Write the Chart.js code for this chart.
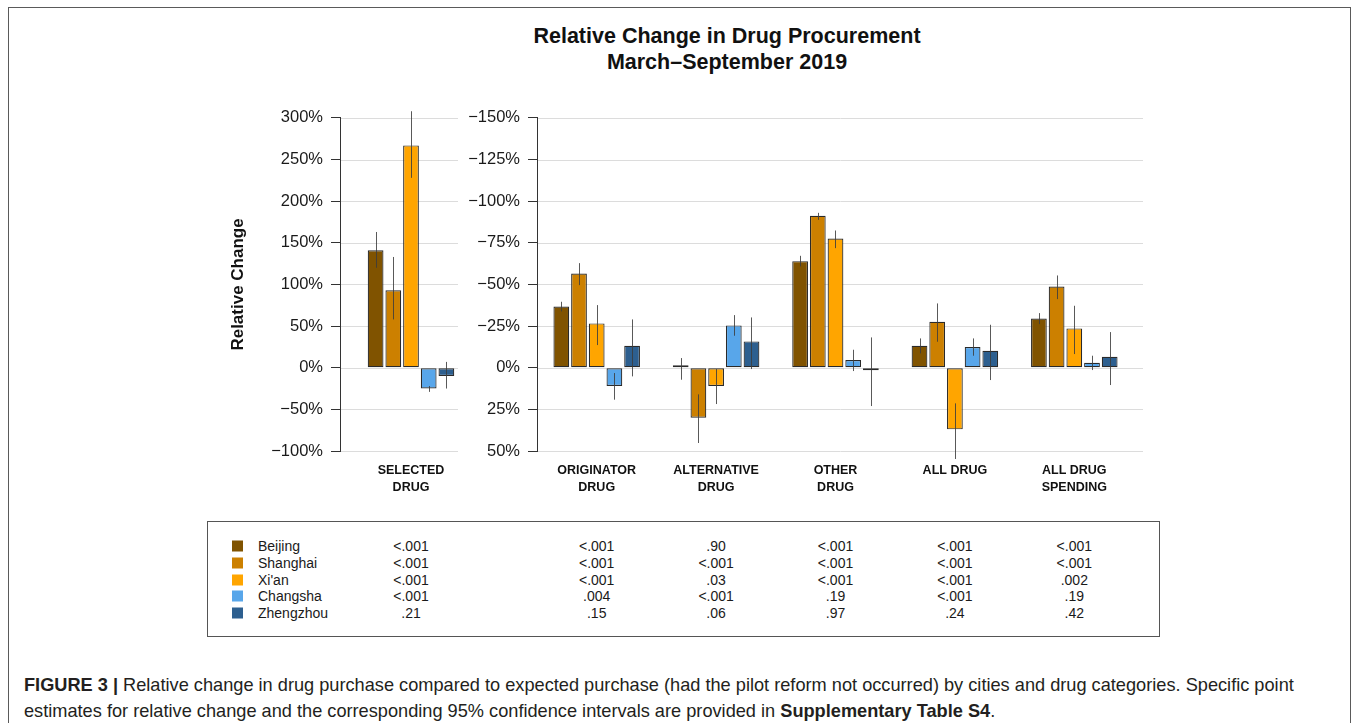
<!DOCTYPE html>
<html>
<head>
<meta charset="utf-8">
<title>Relative Change in Drug Procurement</title>
<script src="https://cdn.jsdelivr.net/npm/chart.js@4.4.1/dist/chart.umd.min.js"></script>
<style>
  html, body { margin: 0; padding: 0; background: #fff; }
  body { width: 1357px; height: 723px; position: relative; overflow: hidden;
         font-family: "Liberation Sans", Arial, Helvetica, sans-serif; color: #1a1a1a; }
  #frame { position: absolute; left: 8px; top: 7px; width: 1343px; height: 780px;
           border: 1.5px solid #5a5a5a; box-sizing: border-box; }
  #title { position: absolute; left: 427px; width: 600px; top: 23px; text-align: center;
           font-weight: bold; font-size: 21.5px; line-height: 26px; color: #111; }
  canvas { position: absolute; }
  #cLeft { left: 200px; top: 100px; }
  #cRight { left: 440px; top: 100px; }
  #pbox { position: absolute; left: 207px; top: 521px; width: 953px; height: 116px;
          border: 1.5px solid #555; box-sizing: border-box; }
  .cell { position: absolute; font-size: 14px; line-height: 16px; white-space: nowrap;
          transform: translate(-50%, -50%); color: #1a1a1a; }
  .name { position: absolute; font-size: 14px; line-height: 16px; white-space: nowrap;
          transform: translateY(-50%); color: #1a1a1a; }
  .swatch { position: absolute; width: 11px; height: 11px; transform: translateY(-50%); }
  #caption { position: absolute; left: 24px; top: 672px; font-size: 18.2px; line-height: 26px;
             color: #231f20; white-space: nowrap; }
</style>
</head>
<body>
<div id="frame"></div>
<div id="title">Relative Change in Drug Procurement<br>March–September 2019</div>
<canvas id="cLeft" width="290" height="410"></canvas>
<canvas id="cRight" width="720" height="410"></canvas>
<div id="pbox"></div>
<div id="legend"></div>
<div id="caption"><b>FIGURE 3 |</b> Relative change in drug purchase compared to expected purchase (had the pilot reform not occurred) by cities and drug categories. Specific point<br>estimates for relative change and the corresponding 95% confidence intervals are provided in <b>Supplementary Table S4</b>.</div>

<script>
// Cities and their colours
const cities = ["Beijing", "Shanghai", "Xi'an", "Changsha", "Zhengzhou"];
const cityColors = ["#805300", "#CC8000", "#FFA500", "#58A6EA", "#2D5F8F"];

// Selected (tendered) drugs: relative change in %, with 95% CI bounds
const selectedCategory = [["SELECTED", "DRUG"]];
const selectedChange = [141, 93, 267, -25, -10];
const selectedLow = [120, 58, 228, -29, -25];
const selectedHigh = [163, 133, 308, -22, 7];

// Other drug categories: relative change in %, with 95% CI bounds
const drugCategories = [["ORIGINATOR", "DRUG"], ["ALTERNATIVE", "DRUG"], ["OTHER", "DRUG"], ["ALL DRUG"], ["ALL DRUG", "SPENDING"]];
const beijingChange   = [-36.8, -0.4, -64.0, -13.2, -29.6];
const beijingLow      = [-39.6, -5.8, -67.2, -17.6, -32.8];
const beijingHigh     = [-33.8,  7.2, -60.8,  -8.6, -26.2];
const shanghaiChange  = [-56.6, 30.0, -91.2, -27.6, -48.8];
const shanghaiLow     = [-62.8, 16.0, -93.0, -38.6, -55.4];
const shanghaiHigh    = [-49.6, 45.2, -88.8, -15.6, -41.2];
const xianChange      = [-26.6, 11.0, -77.6, 37.0, -23.6];
const xianLow         = [-37.6,  0.8, -82.4, 21.4, -37.2];
const xianHigh        = [-13.6, 21.8, -71.8, 54.8,  -8.2];
const changshaChange  = [11.0, -25.4, -4.6, -12.4, -3.0];
const changshaLow     = [ 3.2, -31.6, -10.8, -17.6, -7.2];
const changshaHigh    = [19.2, -19.2,  2.0,  -7.2,  1.4];
const zhengzhouChange = [-13.2, -15.8, 0.6, -10.2, -6.6];
const zhengzhouLow    = [-29.0, -30.2, -18.2, -25.8, -21.4];
const zhengzhouHigh   = [  5.2,   0.8,  23.0,   7.4,  10.4];

// Axis ranges and tick steps
const leftTicks = { min: -100, max: 300, step: 50 };
const rightTicks = { min: -150, max: 50, step: 25 };

// P-values per city: selected drug, then the five other categories
const beijingP   = ["<.001", "<.001", ".90", "<.001", "<.001", "<.001"];
const shanghaiP  = ["<.001", "<.001", "<.001", "<.001", "<.001", "<.001"];
const xianP      = ["<.001", "<.001", ".03", "<.001", "<.001", ".002"];
const changshaP  = ["<.001", ".004", "<.001", ".19", "<.001", ".19"];
const zhengzhouP = [".21", ".15", ".06", ".97", ".24", ".42"];

const rightChangeByCity = [beijingChange, shanghaiChange, xianChange, changshaChange, zhengzhouChange];
const rightLowByCity = [beijingLow, shanghaiLow, xianLow, changshaLow, zhengzhouLow];
const rightHighByCity = [beijingHigh, shanghaiHigh, xianHigh, changshaHigh, zhengzhouHigh];
const pByCity = [beijingP, shanghaiP, xianP, changshaP, zhengzhouP];

const FONT = '"Liberation Sans", Arial, Helvetica, sans-serif';
Chart.defaults.font.family = FONT;
Chart.defaults.color = '#1a1a1a';

const pct = v => (v < 0 ? '\u2212' + Math.abs(v) : String(v)) + '%';

// Horizontal reference lines, drawn beneath the bars for a set width from the axis
const panelGrid = {
  id: 'panelGrid',
  beforeDatasetsDraw(chart, args, opts) {
    const y = chart.scales.y, ctx = chart.ctx, left = chart.chartArea.left;
    ctx.save();
    ctx.strokeStyle = '#dcdcdc';
    ctx.lineWidth = 1;
    y.ticks.forEach(t => {
      const py = Math.round(y.getPixelForValue(t.value)) + 0.5;
      ctx.beginPath();
      ctx.moveTo(left + 1, py);
      ctx.lineTo(left + opts.length, py);
      ctx.stroke();
    });
    ctx.restore();
  }
};

// 95% confidence interval whiskers through the bar centres
const ciWhiskers = {
  id: 'ciWhiskers',
  afterDatasetsDraw(chart) {
    const ctx = chart.ctx, y = chart.scales.y;
    ctx.save();
    ctx.strokeStyle = 'rgba(60,60,60,0.85)';
    ctx.lineWidth = 1;
    chart.data.datasets.forEach((ds, i) => {
      const meta = chart.getDatasetMeta(i);
      meta.data.forEach((bar, j) => {
        const x = Math.round(bar.x) + 0.5;
        ctx.beginPath();
        ctx.moveTo(x, y.getPixelForValue(ds.ciLow[j]));
        ctx.lineTo(x, y.getPixelForValue(ds.ciHigh[j]));
        ctx.stroke();
      });
    });
    ctx.restore();
  }
};

function makeDatasets(values, lows, highs, catPct) {
  return cities.map((c, i) => ({
    label: c,
    data: values[i],
    ciLow: lows[i],
    ciHigh: highs[i],
    backgroundColor: cityColors[i],
    borderColor: '#2a2a2a',
    borderWidth: 1.2,
    borderSkipped: false,
    minBarLength: 2.5,
    categoryPercentage: catPct,
    barPercentage: 0.89
  }));
}

function makeOptions(cfg) {
  return {
    responsive: false,
    animation: false,
    devicePixelRatio: 1,
    layout: { padding: { top: 17, right: cfg.padRight, left: 0, bottom: 0 } },
    plugins: {
      legend: { display: false },
      tooltip: { enabled: false },
      panelGrid: { length: cfg.gridLength }
    },
    scales: {
      x: {
        type: 'category',
        offset: true,
        grid: { display: false, drawTicks: false },
        border: { display: false },
        ticks: {
          autoSkip: false, maxRotation: 0, minRotation: 0, padding: 11,
          color: '#111',
          font: { family: FONT, size: 12.5, weight: 'bold', lineHeight: 1.36 }
        },
        afterFit(s) { s.height = 59; }
      },
      y: {
        type: 'linear',
        min: cfg.ticks.min, max: cfg.ticks.max,
        reverse: cfg.reverse,
        grid: { drawOnChartArea: false, drawTicks: true, tickLength: 9, color: '#333', lineWidth: 1 },
        border: { display: true, color: '#333', width: 1 },
        ticks: {
          stepSize: cfg.ticks.step, padding: 8, color: '#1a1a1a',
          font: { family: FONT, size: 16.5 },
          callback: v => pct(v)
        },
        title: cfg.title ? {
          display: true, text: cfg.title, color: '#111',
          font: { family: FONT, size: 17, weight: 'bold' },
          padding: { top: 28, bottom: 0 }
        } : { display: false },
        afterFit(s) { s.width = cfg.axisWidth; }
      }
    }
  };
}

const leftChart = new Chart(document.getElementById('cLeft'), {
  type: 'bar',
  data: {
    labels: selectedCategory,
    datasets: makeDatasets(
      selectedChange.map(v => [v]),
      selectedLow.map(v => [v]),
      selectedHigh.map(v => [v]),
      0.623)
  },
  options: makeOptions({ ticks: leftTicks, reverse: false, axisWidth: 140, padRight: 8,
                         gridLength: 118, title: 'Relative Change' }),
  plugins: [panelGrid, ciWhiskers]
});

const rightChart = new Chart(document.getElementById('cRight'), {
  type: 'bar',
  data: {
    labels: drugCategories,
    datasets: makeDatasets(rightChangeByCity, rightLowByCity, rightHighByCity, 0.741)
  },
  options: makeOptions({ ticks: rightTicks, reverse: true, axisWidth: 97, padRight: 26,
                         gridLength: 606, title: null }),
  plugins: [panelGrid, ciWhiskers]
});

// P-value table: one column under each category group
const leftCanvasX = 200, rightCanvasX = 440;
const columnX = [leftCanvasX + leftChart.scales.x.getPixelForValue(0)]
  .concat(drugCategories.map((_, i) => rightCanvasX + rightChart.scales.x.getPixelForValue(i)));
const rowY0 = 546, rowStep = 16.75;
const legend = document.getElementById('legend');
cities.forEach((c, r) => {
  const y = rowY0 + r * rowStep;
  const sw = document.createElement('div');
  sw.className = 'swatch';
  sw.style.left = '232px';
  sw.style.top = y + 'px';
  sw.style.background = cityColors[r];
  legend.appendChild(sw);
  const nm = document.createElement('div');
  nm.className = 'name';
  nm.style.left = '258px';
  nm.style.top = y + 'px';
  nm.textContent = c;
  legend.appendChild(nm);
  pByCity[r].forEach((p, k) => {
    const cell = document.createElement('div');
    cell.className = 'cell';
    cell.style.left = columnX[k] + 'px';
    cell.style.top = y + 'px';
    cell.textContent = p;
    legend.appendChild(cell);
  });
});
</script>
</body>
</html>
